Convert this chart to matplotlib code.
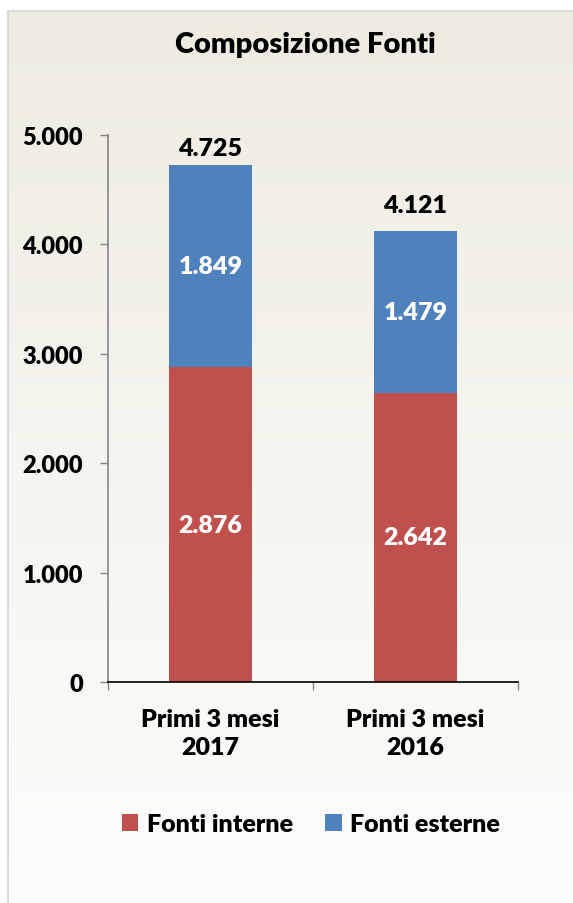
import numpy as np
import matplotlib
matplotlib.use("Agg")
import matplotlib.pyplot as plt
from matplotlib.patches import Patch

plt.rcParams['font.family'] = ['Lato', 'DejaVu Sans']
plt.rcParams['font.weight'] = 'heavy'
WEIGHT = 'heavy'

categories = ["Primi 3 mesi\n2017", "Primi 3 mesi\n2016"]
fonti_interne = [2876, 2642]
fonti_esterne = [1849, 1479]
y_ticks = [0, 1000, 2000, 3000, 4000, 5000]
y_tick_labels = ["0", "1.000", "2.000", "3.000", "4.000", "5.000"]
total_label_gap = [10, 19]  # pixels between bar top and total label baseline

RED = "#C0504D"
BLUE = "#4F81BD"

W, H = 573, 904
fig = plt.figure(figsize=(W / 100, H / 100), dpi=100)
fig.patch.set_facecolor("white")

# Panel background with vertical gradient and thin border
bg = fig.add_axes([0, 0, 1, 1])
bg.set_xlim(0, W)
bg.set_ylim(H, 0)
bg.axis("off")
top = np.array([238, 236, 225]) / 255
bottom = np.array([253, 253, 252]) / 255
t = np.linspace(0, 1, 256)[:, None, None]
grad = top * (1 - t) + bottom * t
bg.imshow(grad, extent=(8, W + 5, H + 5, 12), aspect="auto", zorder=0)
bg.plot([8, 8], [12, H + 5], color="#D4D4D4", lw=1.2, zorder=1)
bg.plot([8, W + 5], [12, 12], color="#D9D9D9", lw=1.2, zorder=1)
bg.text(305, 53, "Composizione Fonti", ha="center", va="baseline",
        fontsize=21, fontweight=WEIGHT, color="black")

# Main chart area
ax_left, ax_right = 108, 518
ax_top, ax_bottom = 136, 683
ax = fig.add_axes([ax_left / W, (H - ax_bottom) / H,
                   (ax_right - ax_left) / W, (ax_bottom - ax_top) / H])
ax.patch.set_alpha(0)

x = np.arange(len(categories))
width = 0.405
totals = [a + b for a, b in zip(fonti_interne, fonti_esterne)]
ax.bar(x, fonti_interne, width, color=RED, label="Fonti interne", zorder=2)
ax.bar(x, fonti_esterne, width, bottom=fonti_interne, color=BLUE,
       label="Fonti esterne", zorder=2)

ax.set_xlim(-0.5, 1.5)
ax.set_ylim(0, 5000)

def fmt(v):
    return f"{v:,}".replace(",", ".")

LABEL_SIZE = 18
for xi, lo, hi, tot, gap in zip(x, fonti_interne, fonti_esterne, totals, total_label_gap):
    ax.text(xi, lo / 2, fmt(lo), ha="center", va="center", color="white",
            fontsize=LABEL_SIZE, fontweight=WEIGHT, zorder=3)
    ax.text(xi, lo + hi / 2, fmt(hi), ha="center", va="center", color="white",
            fontsize=LABEL_SIZE, fontweight=WEIGHT, zorder=3)
    ax.annotate(fmt(tot), xy=(xi, tot), xytext=(0, gap * 0.72),
                textcoords="offset points", ha="center", va="baseline",
                fontsize=LABEL_SIZE, fontweight=WEIGHT, color="black")

ax.set_yticks(y_ticks)
ax.set_yticklabels(y_tick_labels, fontsize=17, fontweight=WEIGHT)
ax.set_xticks(x)
ax.set_xticklabels(categories, fontsize=18, fontweight=WEIGHT, linespacing=1.3)
ax.set_xticks([-0.5, 0.5, 1.5], minor=True)
ax.tick_params(axis="x", which="major", length=0, pad=19)
ax.tick_params(axis="x", which="minor", length=6, color="#868686", width=1, direction="out")
ax.tick_params(axis="y", length=6, color="#868686", width=1, pad=12)

for s in ["top", "right"]:
    ax.spines[s].set_visible(False)
ax.spines["left"].set_color("#868686")
ax.spines["left"].set_linewidth(1.2)
ax.spines["bottom"].set_color("black")
ax.spines["bottom"].set_linewidth(1.2)

handles = [Patch(facecolor=RED, label="Fonti interne"),
           Patch(facecolor=BLUE, label="Fonti esterne")]
fig.legend(handles=handles, loc="center", bbox_to_anchor=(311 / W, (H - 825) / H),
           ncol=2, frameon=False, handlelength=0.65, handleheight=0.65,
           handletextpad=0.35, columnspacing=1.3, prop={"weight": WEIGHT, "size": 18})

fig.savefig("out.png", dpi=100, facecolor=fig.get_facecolor())
